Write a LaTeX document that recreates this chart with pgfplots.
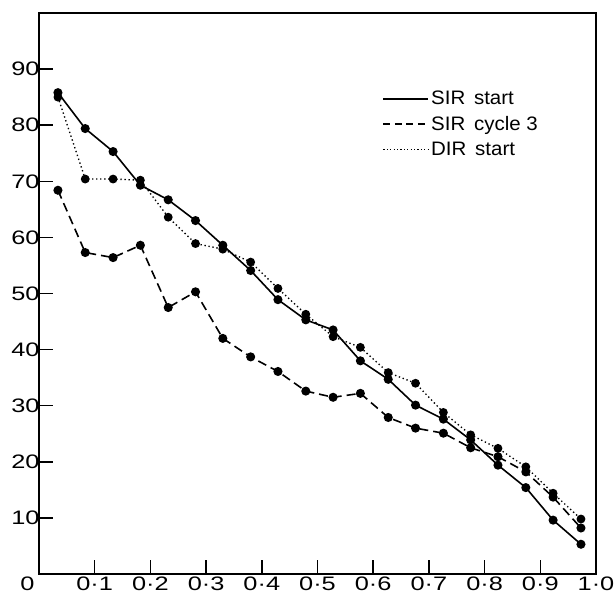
\documentclass[border=0pt]{standalone}
\usepackage{fontspec}
\setmainfont{Liberation Sans}
\newfontfamily\tickfont{Liberation Sans}[FakeStretch=1.3]
\newfontfamily\legfont{Liberation Sans}[FakeStretch=1.05]
\usepackage{pgfplots}
\pgfplotsset{compat=1.18}
\pgfplotstableread{
x      sir    cyc    dir
0.034  85.8   68.4   85.0
0.083  79.4   57.3   70.4
0.133  75.3   56.4   70.4
0.182  69.3   58.6   70.2
0.232  66.7   47.5   63.6
0.281  63.0   50.3   58.9
0.330  58.6   42.0   57.9
0.380  54.1   38.7   55.6
0.429  48.9   36.1   50.9
0.479  45.3   32.6   46.3
0.528  43.5   31.5   42.3
0.577  38.0   32.2   40.4
0.627  34.7   27.9   35.9
0.676  30.1   26.0   34.0
0.726  27.6   25.1   28.8
0.775  23.9   22.5   24.8
0.824  19.4   20.9   22.4
0.874  15.4   18.2   19.1
0.923   9.6   13.7   14.4
0.973   5.3    8.2    9.8
}\datatable
\begin{document}
\begin{tikzpicture}
\useasboundingbox (-39pt,-23pt) rectangle (575pt,574pt);
\begin{axis}[
  at={(0pt,0pt)}, anchor=south west,
  scale only axis,
  width=557pt, height=561pt,
  xmin=0, xmax=1, ymin=0, ymax=100,
  axis line style={line width=1.7pt},
  tick style={line width=1.5pt, black},
  major tick length=14pt,
  tick align=inside,
  xtick pos=bottom, ytick pos=left,
  xtick={0,0.1,0.2,0.3,0.4,0.5,0.6,0.7,0.8,0.9,1.0},
  xticklabels={\llap{0\hspace{4.5pt}},0·1,0·2,0·3,0·4,0·5,0·6,0·7,0·8,0·9,1·0},
  ytick={10,20,30,40,50,60,70,80,90},
  /pgf/number format/assume math mode=true,
  tick label style={font=\tickfont\fontsize{19.5}{19.5}\selectfont},
  yticklabel style={xshift=4pt},
  xticklabel style={yshift=1pt},
  legend style={at={(0.617,0.864)}, anchor=north west, draw=none, fill=none,
    inner sep=0pt, outer sep=0pt,
    font=\legfont\fontsize{19.5}{19.5}\selectfont, row sep=6pt,
    cells={anchor=west, inner xsep=4pt, inner ysep=0pt}},
  legend image code/.code={\draw[#1] (0pt,0pt) -- (45pt,0pt);},
  mark size=3.7pt,
]
\addlegendimage{black, line width=1.5pt}
\addlegendentry{SIR\hspace{0.45em}start}
\addlegendimage{black, line width=1.5pt, dash pattern=on 7pt off 4.5pt}
\addlegendentry{SIR\hspace{0.45em}cycle 3}
\addlegendimage{black, line width=1.2pt, dash pattern=on 1.2pt off 2.2pt}
\addlegendentry{DIR\hspace{0.45em}start}

\addplot[forget plot, black, line width=1.6pt, mark=*, mark options={solid}] table[x=x, y=sir] {\datatable};
\addplot[forget plot, black, line width=1.6pt, dash pattern=on 9pt off 5pt, mark=*, mark options={solid}] table[x=x, y=cyc] {\datatable};
\addplot[forget plot, black, line width=1.35pt, dash pattern=on 1.35pt off 2.7pt, mark=*, mark options={solid}] table[x=x, y=dir] {\datatable};
\end{axis}
\end{tikzpicture}
\end{document}
